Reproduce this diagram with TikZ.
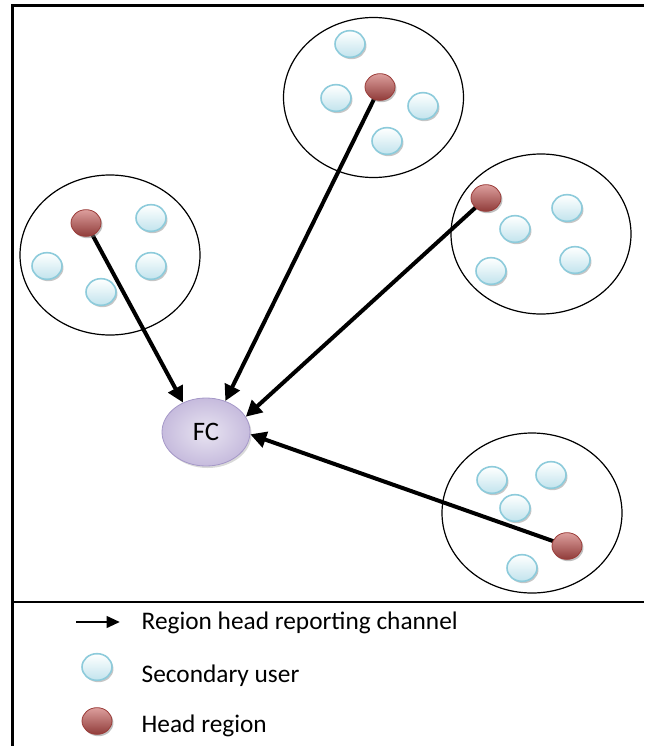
\documentclass[tikz,border=0pt]{standalone}
\usepackage{fontspec}
\setmainfont{Carlito}
\usetikzlibrary{shapes.geometric,shadows,arrows.meta}
\definecolor{userline}{HTML}{8DCBDB}
\definecolor{userfill}{HTML}{C2E4ED}
\definecolor{headfill}{HTML}{C0504D}
\definecolor{headline}{HTML}{9A3B38}
\definecolor{fcfill}{HTML}{C6BBDD}
\definecolor{fcline}{HTML}{A598C8}
\begin{document}
\begin{tikzpicture}[x=0.75pt, y=-0.75pt, font=\fontsize{19}{23}\selectfont,
  region/.style={ellipse, draw, line width=0.9pt, minimum width=135pt, minimum height=120pt},
  user/.style={ellipse, draw=userline, line width=1.2pt, top color=white, bottom color=userfill,
    minimum width=22.5pt, minimum height=20pt, inner sep=0pt,
    drop shadow={shadow xshift=1.1pt, shadow yshift=-1.4pt, opacity=0.45}},
  head/.style={ellipse, draw=headline, line width=0.6pt, top color=headfill!55!white,
    middle color=headfill, bottom color=headfill!75!black,
    minimum width=22.5pt, minimum height=20pt, inner sep=0pt,
    drop shadow={shadow xshift=1.1pt, shadow yshift=-1.4pt, opacity=0.5}},
  fcnode/.style={ellipse, draw=fcline, line width=0.6pt, inner color=fcfill!40!white, outer color=fcfill,
    minimum width=66pt, minimum height=51pt, font=\fontsize{20}{24}\selectfont,
    drop shadow={shadow xshift=1.2pt, shadow yshift=-1.5pt, opacity=0.3}},
  report/.style={line width=3pt, -{Triangle[length=12pt,width=12pt]}}]
\useasboundingbox (0,0) rectangle (644,746);
% frame and legend separator
\draw[line width=2.2pt] (12.5,746) -- (12.5,5.5) -- (644,5.5);
\draw[line width=2.2pt] (12.5,602) -- (644,602);
% regions
\node[region] (rtop) at (373.5,97.5) {};
\node[region] (rleft) at (110,255) {};
\node[region] (rright) at (541,234) {};
\node[region] (rbottom) at (532,513) {};
% secondary users
\node[user] (ut1) at (350,44) {};
\node[user] (ut2) at (336,98) {};
\node[user] (ut3) at (423,106) {};
\node[user] (ut4) at (387,141) {};
\node[user] (ul1) at (151,218) {};
\node[user] (ul2) at (47,266) {};
\node[user] (ul3) at (151,266) {};
\node[user] (ul4) at (101,292) {};
\node[user] (ur1) at (515,229) {};
\node[user] (ur2) at (567,208) {};
\node[user] (ur3) at (491,271) {};
\node[user] (ur4) at (575,260) {};
\node[user] (ub1) at (492,480) {};
\node[user] (ub2) at (551,475) {};
\node[user] (ub3) at (515,508) {};
\node[user] (ub4) at (522,568) {};
% fusion centre
\node[fcnode] (fc) at (206,432) {FC};
% reporting channels
\draw[report] (380,87) -- (fc.58);
\draw[report] (86,223) -- (fc.128);
\draw[report] (486,198) -- (fc.21);
\draw[report] (567,546) -- (fc.-3);
% region heads
\node[head] (htop) at (380,87) {};
\node[head] (hleft) at (86,223) {};
\node[head] (hright) at (486,198) {};
\node[head] (hbottom) at (567,546) {};
% legend
\coordinate (la) at (76,622);
\coordinate (lb) at (120,622);
\draw[line width=2.2pt, -{Triangle[length=10pt,width=8.5pt]}] (la) -- (lb);
\node[anchor=base west] (tchan) at (137,629) {Region head reporting channel};
\node[user] (luser) at (97,667) {};
\node[anchor=base west] (tuser) at (137,682) {Secondary user};
\node[head] (lhead) at (97,721) {};
\node[anchor=base west] (thead) at (137,732) {Head region};
\end{tikzpicture}
\end{document}
